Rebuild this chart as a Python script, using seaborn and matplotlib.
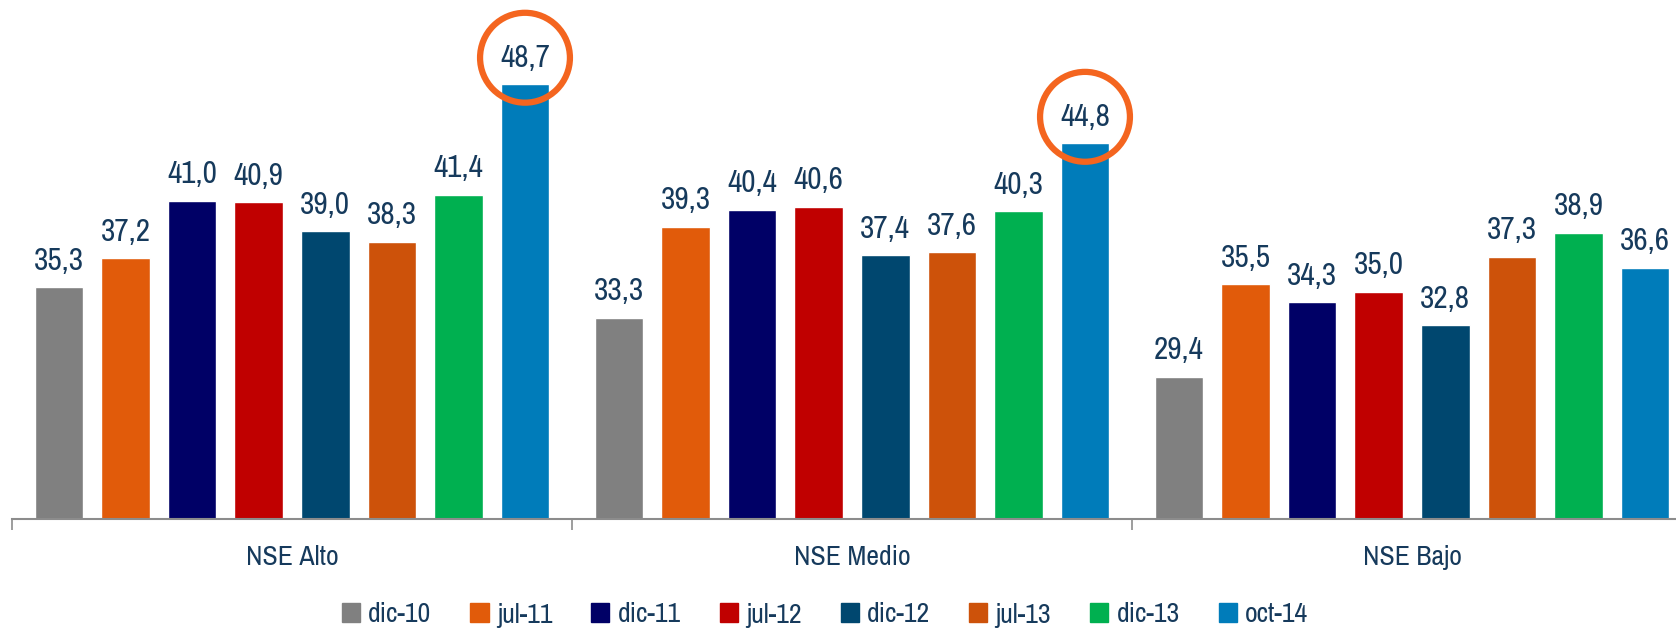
import matplotlib
matplotlib.use("Agg")
import matplotlib.pyplot as plt
from matplotlib import font_manager
import seaborn as sns
import pandas as pd

# данные графика
grupos = ["NSE Alto", "NSE Medio", "NSE Bajo"]
periodos = ["dic-10", "jul-11", "dic-11", "jul-12", "dic-12", "jul-13", "dic-13", "oct-14"]
nse_alto = [35.3, 37.2, 41.0, 40.9, 39.0, 38.3, 41.4, 48.7]
nse_medio = [33.3, 39.3, 40.4, 40.6, 37.4, 37.6, 40.3, 44.8]
nse_bajo = [29.4, 35.5, 34.3, 35.0, 32.8, 37.3, 38.9, 36.6]
colores = ["#808080", "#E15B0A", "#000066", "#C00000", "#00476F", "#CD520A", "#00B050", "#007CBA"]

texto = "#163A5C"
circulo = "#F4651F"

sns.set_theme(style="white")
# узкий шрифт, если найдется
narrow = [f.name for f in font_manager.fontManager.ttflist
          if "narrow" in f.name.lower() or "condensed" in f.name.lower()]
plt.rcParams["font.family"] = narrow[:1] + ["DejaVu Sans"]
plt.rcParams["font.stretch"] = "condensed"

filas = []
for g, vals in zip(grupos, [nse_alto, nse_medio, nse_bajo]):
    for p, v in zip(periodos, vals):
        filas.append({"grupo": g, "periodo": p, "valor": v})
df = pd.DataFrame(filas)

fig = plt.figure(figsize=(16.76, 6.30), dpi=100)
ax = fig.add_axes([12 / 1676, 111 / 630, 1680 / 1676, 519 / 630])

sns.barplot(data=df, x="grupo", y="valor", hue="periodo", order=grupos,
            hue_order=periodos, palette=colores, width=0.951, gap=0.272,
            saturation=1, errorbar=None, legend=False, ax=ax)

ax.set_ylim(20, 54.26)
ax.set_xlim(-0.5, 2.5)

# подписи значений, последние столбцы обводим кружком
for i, cont in enumerate(ax.containers):
    labels = [f"{b.get_height():.1f}".replace(".", ",") for b in cont]
    txts = ax.bar_label(cont, labels=labels, padding=9, fontsize=22.5, color=texto)
    if periodos[i] == "oct-14":
        for t in txts[:2]:
            t.set_bbox(dict(boxstyle="circle,pad=0.64", fc="none", ec=circulo, lw=4.5))

for s in ["left", "right", "top"]:
    ax.spines[s].set_visible(False)
ax.spines["bottom"].set_color("#8C8C8C")
ax.spines["bottom"].set_linewidth(1.5)
ax.set_yticks([])
ax.set_xlabel("")
ax.set_ylabel("")
ax.set_xticks([0, 1, 2])
ax.set_xticklabels(grupos, fontsize=20, color=texto)
ax.set_xticks([-0.5, 0.5, 1.5, 2.5], minor=True)
ax.tick_params(axis="x", which="major", length=0, pad=19)
ax.tick_params(axis="x", which="minor", length=8, width=1.2, color="#8C8C8C", direction="out", bottom=True)

# легенда снизу
handles = [plt.Rectangle((0, 0), 1, 1, color=c) for c in colores]
fig.legend(handles, periodos, loc="center", bbox_to_anchor=(825 / 1676, 15 / 630),
           ncol=8, frameon=False, fontsize=20, labelcolor=texto,
           handlelength=0.65, handleheight=0.65, handletextpad=0.3, columnspacing=1.4)

fig.savefig("out.png", dpi=100)
